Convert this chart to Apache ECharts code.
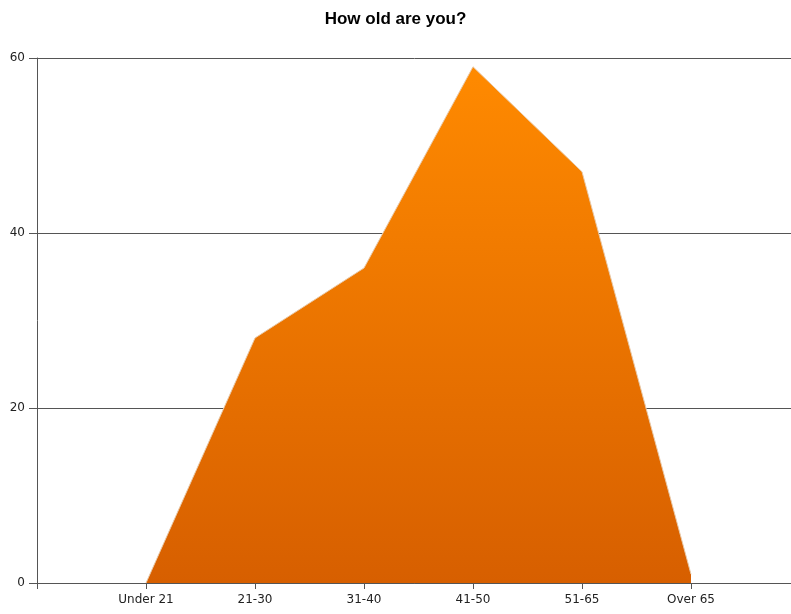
<!DOCTYPE html>
<html><head><meta charset="utf-8">
<script src="https://cdn.jsdelivr.net/npm/echarts@6/dist/echarts.min.js"></script>
<style>html,body{margin:0;padding:0;background:#fff}#c{width:791px;height:614px}</style>
</head><body><div id="c"></div>
<script>
const titleText = 'How old are you?';
const categories = ['Under 21', '21-30', '31-40', '41-50', '51-65', 'Over 65'];
const values = [0, 28, 36, 59, 47, 1];
const yTicks = [0, 20, 40, 60];

const axisCats = [''].concat(categories, ['']);
const axisVals = [null].concat(values, [null]);

const chart = echarts.init(document.getElementById('c'), null, {renderer: 'canvas'});
chart.setOption({
  animation: false,
  title: {text: titleText, left: 'center', top: 6,
    textStyle: {fontFamily: 'Liberation Sans, Arial, sans-serif', fontSize: 17, fontWeight: 'bold', color: '#000'}},
  grid: {left: 37, top: 58, width: 763, height: 525, containLabel: false, outerBoundsMode: 'none'},
  xAxis: {
    type: 'category', data: axisCats, boundaryGap: false,
    axisLine: {lineStyle: {color: '#555', width: 1}},
    axisTick: {show: true, length: 6, alignWithLabel: true, lineStyle: {color: '#555'}},
    axisLabel: {color: '#222', fontSize: 12, fontFamily: 'DejaVu Sans, sans-serif', margin: 11, interval: 0},
    splitLine: {show: false}
  },
  yAxis: {
    type: 'value', min: yTicks[0], max: yTicks[yTicks.length - 1], interval: 20,
    axisLine: {show: true, lineStyle: {color: '#555', width: 1}},
    axisTick: {show: true, length: 8, lineStyle: {color: '#555'}},
    axisLabel: {color: '#222', fontSize: 12, fontFamily: 'DejaVu Sans, sans-serif', margin: 12},
    splitLine: {show: true, lineStyle: {color: '#555', width: 1}}
  },
  series: [{
    type: 'line', data: axisVals, symbol: 'none', connectNulls: false,
    lineStyle: {color: '#e8c9a8', width: 1},
    areaStyle: {opacity: 1, color: new echarts.graphic.LinearGradient(0, 0, 0, 1, [
      {offset: 0, color: '#ff8a00'}, {offset: 1, color: '#d75f00'}])}
  }]
});
</script></body></html>
